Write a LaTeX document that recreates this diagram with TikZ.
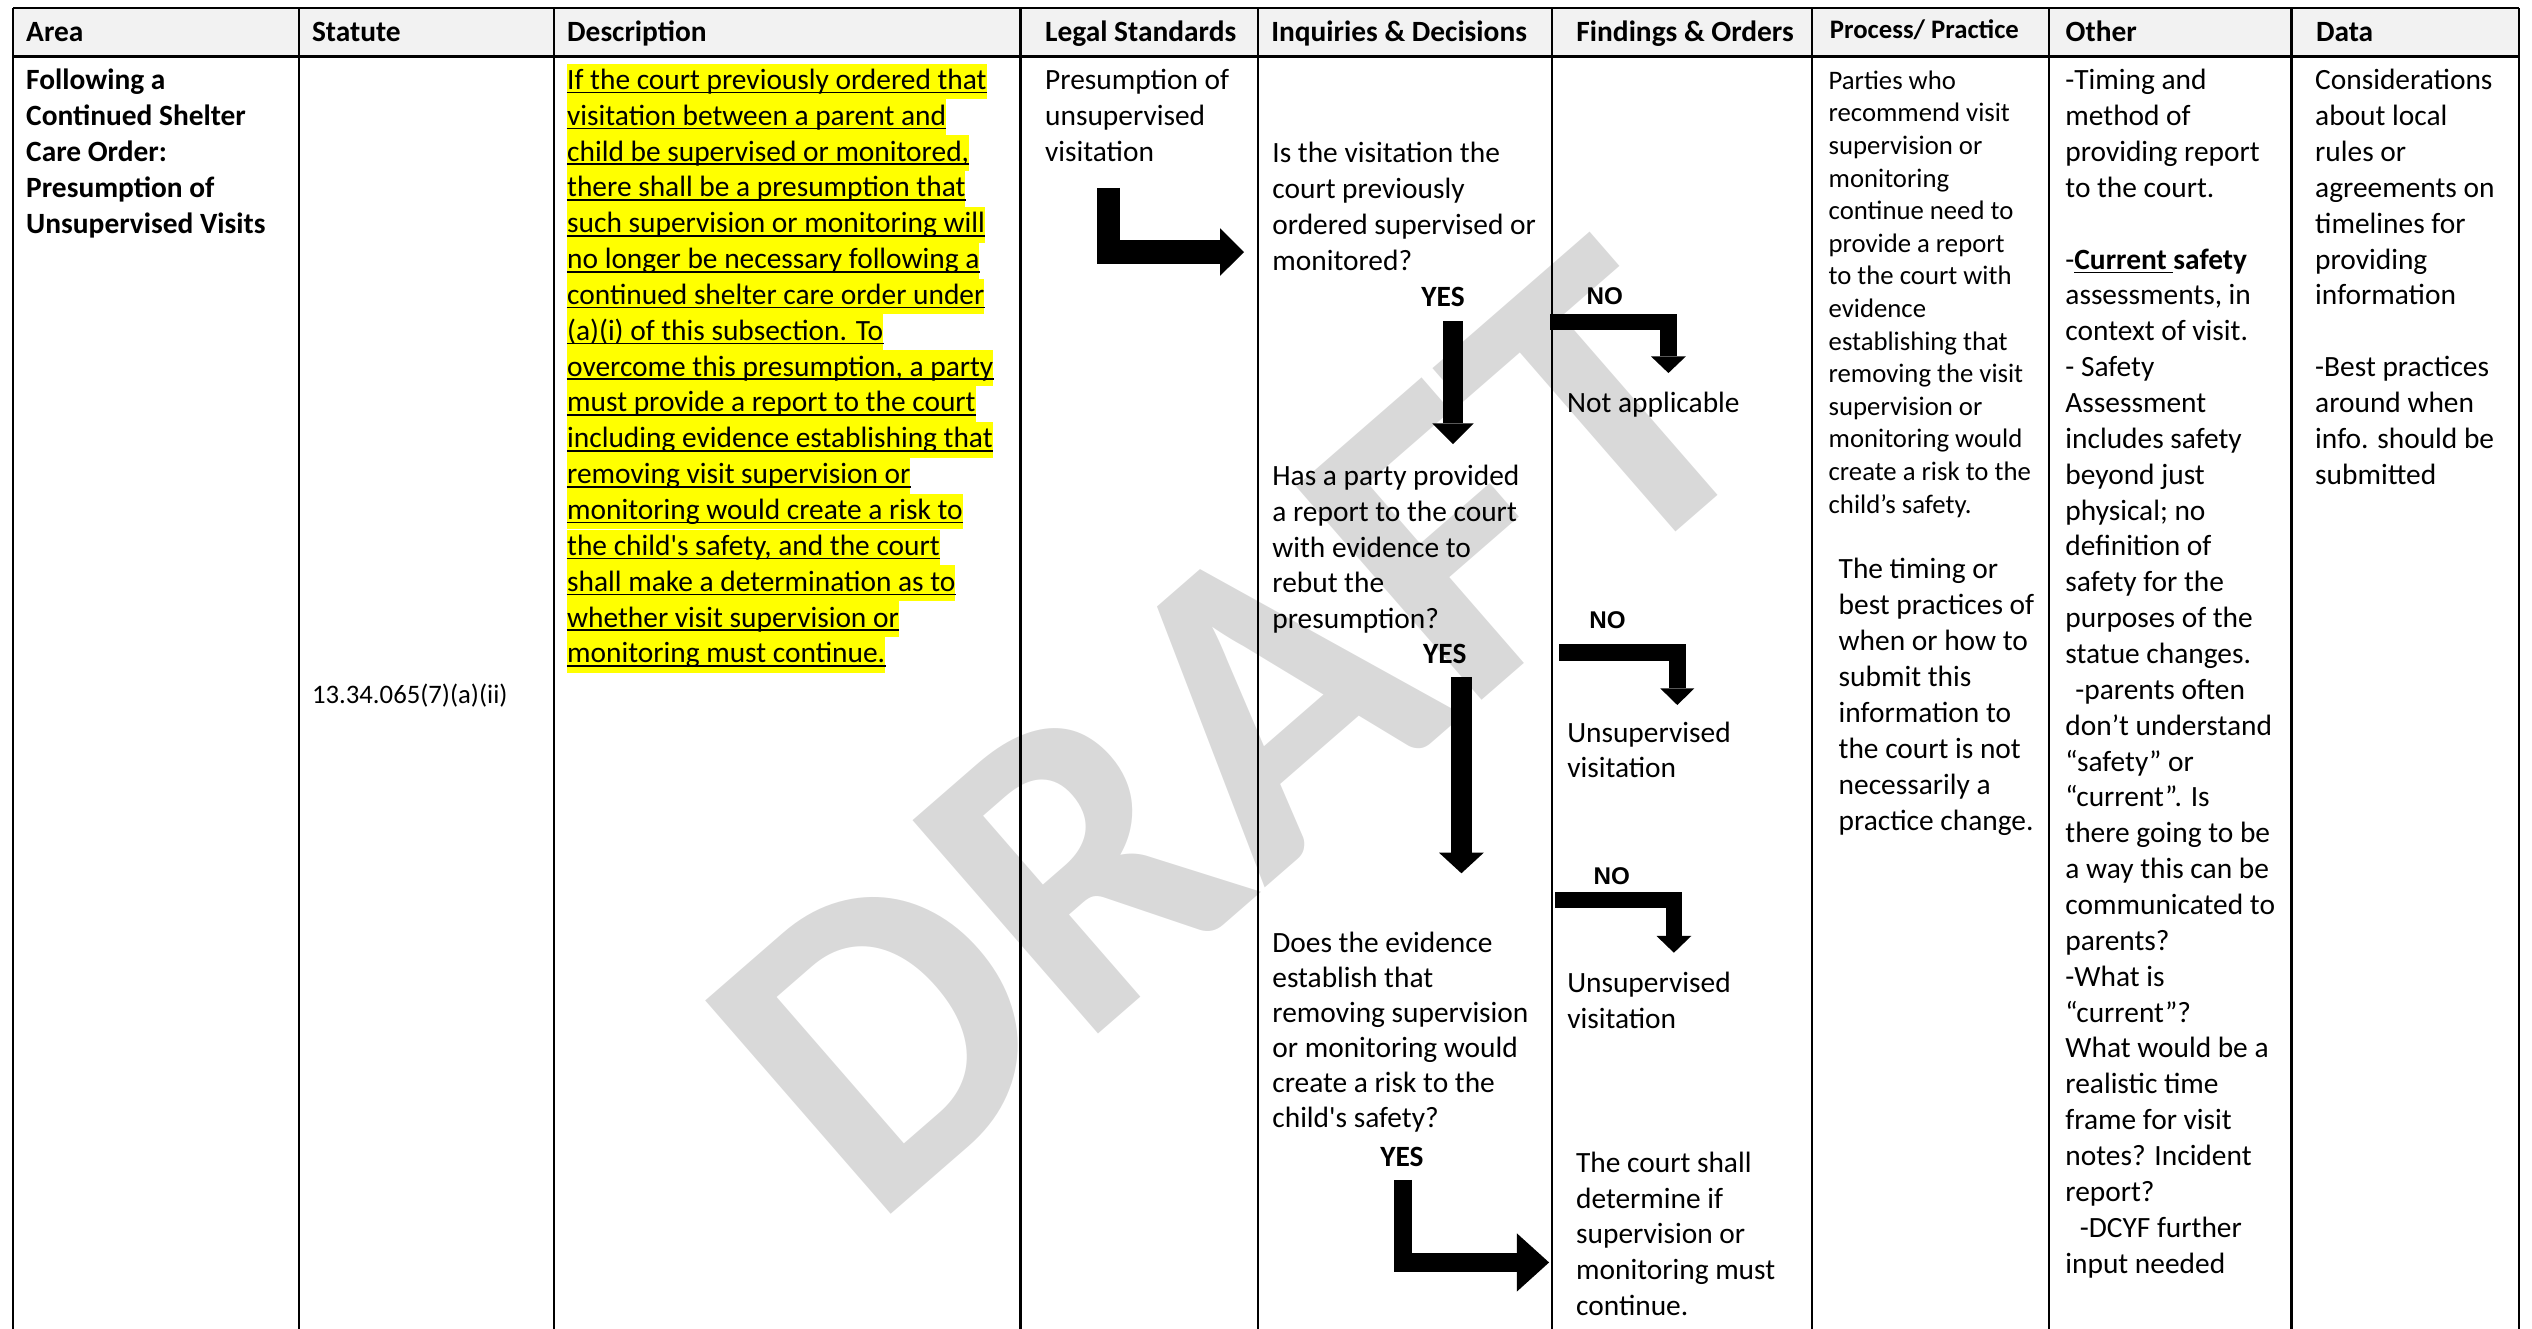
\documentclass[tikz,border=0pt]{standalone}
\usepackage{fontspec}
\setmainfont{Carlito}
\newfontfamily\arialf{Liberation Sans}
\usetikzlibrary{arrows.meta}
\definecolor{hdrgray}{HTML}{F2F2F2}
\definecolor{wmgray}{HTML}{D9D9D9}
\definecolor{hlyellow}{HTML}{FFFF00}
\newcommand{\elf}{\fontsize{14.7pt}{17.93pt}\selectfont}
\newcommand{\tenf}{\fontsize{13.36pt}{16.3pt}\selectfont}
\newcommand{\hlline}[3]{%
  \node[hl] (#1) at (351,#2) {#3\hspace{2.5pt}};
  \draw[ul] ([yshift=-1.6pt]#1.base west) -- ([yshift=-1.6pt]#1.base east);}
\begin{document}
\begin{tikzpicture}[x=0.8074pt,y=-0.8074pt,
  txt/.style={anchor=north west, yshift=12.55pt, inner sep=0pt, align=left, font=\elf},
  smalltxt/.style={anchor=north west, yshift=11.41pt, inner sep=0pt, align=left, font=\tenf},
  hdr/.style={anchor=base west, inner sep=0pt, font=\elf\bfseries},
  hl/.style={anchor=base west, inner sep=0pt, fill=hlyellow, text height=12.9pt, text depth=5pt, font=\elf},
  ul/.style={line width=0.8pt},
  yes/.style={inner sep=0pt, font=\elf\bfseries},
  no/.style={inner sep=0pt, font=\arialf\fontsize{12.1pt}{14pt}\selectfont\bfseries},
  tbl/.style={line width=1.1pt, black}]
\useasboundingbox (0,0) rectangle (1568,822.4);
% watermark
\node[font=\fontsize{218pt}{218pt}\selectfont\bfseries, text=wmgray, rotate=41, anchor=base west, inner sep=0pt] (wm) at (540,762) {DRAFT};
% header fill
\fill[hdrgray] (8,5) rectangle (1560,35);
% headers
\node[hdr] (h1) at (16,25.8) {Area};
\node[hdr] (h2) at (193,25.8) {Statute};
\node[hdr] (h3) at (351,25.8) {Description};
\node[hdr] (h4) at (647,25.8) {Legal Standards};
\node[hdr] (h5) at (787,25.8) {Inquiries \& Decisions};
\node[hdr] (h6) at (976,25.8) {Findings \& Orders};
\node[hdr, font=\tenf\bfseries] (h7) at (1133,23.8) {Process/ Practice};
\node[hdr] (h8) at (1279,25.8) {Other};
\node[hdr] (h9) at (1434,25.8) {Data};
% area
\node[txt, font=\elf\bfseries] (area) at (16,55.3) {\strut Following a\\Continued Shelter\\Care Order:\\Presumption of\\Unsupervised Visits};
% statute
\node[smalltxt] (statute) at (193,435.3) {\strut 13.34.065(7)(a)(ii)};
% description
\hlline{d1}{55.3}{If the court previously ordered that}
\hlline{d2}{77.5}{visitation between a parent and}
\hlline{d3}{99.7}{child be supervised or monitored,}
\hlline{d4}{121.9}{there shall be a presumption that}
\hlline{d5}{144.1}{such supervision or monitoring will}
\hlline{d6}{166.3}{no longer be necessary following a}
\hlline{d7}{188.5}{continued shelter care order under}
\hlline{d8}{210.7}{(a)(i) of this subsection. To}
\hlline{d9}{232.9}{overcome this presumption, a party}
\hlline{d10}{255.1}{must provide a report to the court}
\hlline{d11}{277.3}{including evidence establishing that}
\hlline{d12}{299.5}{removing visit supervision or}
\hlline{d13}{321.7}{monitoring would create a risk to}
\hlline{d14}{343.9}{the child\textquotesingle s safety, and the court}
\hlline{d15}{366.1}{shall make a determination as to}
\hlline{d16}{388.3}{whether visit supervision or}
\hlline{d17}{410.5}{monitoring must continue.}
% legal standards
\node[txt] (legal) at (647,55.3) {\strut Presumption of\\unsupervised\\visitation};
% inquiries
\node[txt] (q1) at (787.7,100.5) {\strut Is the visitation the\\court previously\\ordered supervised or\\monitored?};
\node[txt] (q2) at (787.7,300.3) {\strut Has a party provided\\a report to the court\\with evidence to\\rebut the\\presumption?};
\node[txt, font=\fontsize{14.7pt}{17.5pt}\selectfont, yshift=-0.3pt] (q3) at (787.7,589.5) {\strut Does the evidence\\establish that\\removing supervision\\or monitoring would\\create a risk to the\\child\textquotesingle s safety?};
\node[yes] (y1) at (893.6,184) {YES};
\node[yes] (y2) at (894.7,405) {YES};
\node[yes] (y3) at (868.2,716.3) {YES};
% findings
\node[txt] (na) at (970.2,255.3) {\strut Not applicable};
\node[txt] (uv1) at (970.3,459.3) {\strut Unsupervised\\visitation};
\node[txt] (uv2) at (970.3,614.3) {\strut Unsupervised\\visitation};
\node[txt] (court) at (975.8,725.7) {\strut The court shall\\determine if\\supervision or\\monitoring must\\continue.};
\node[no] (n1) at (993.8,183.6) {NO};
\node[no] (n2) at (995.5,384) {NO};
\node[no] (n3) at (998.1,542.5) {NO};
% process
\node[smalltxt] (proc1) at (1132.2,55) {\strut Parties who\\recommend visit\\supervision or\\monitoring\\continue need to\\provide a report\\to the court with\\evidence\\establishing that\\removing the visit\\supervision or\\monitoring would\\create a risk to the\\child’s safety.};
\node[txt] (proc2) at (1138.4,358.3) {\strut The timing or\\best practices of\\when or how to\\submit this\\information to\\the court is not\\necessarily a\\practice change.};
% other
\node[txt] (other) at (1278.8,55.3) {\strut -Timing and\\method of\\providing report\\to the court.\\[17.93pt]-\textbf{\underline{Current }safety}\\assessments, in\\context of visit.\\- Safety\\Assessment\\includes safety\\beyond just\\physical; no\\definition of\\safety for the\\purposes of the\\statue changes.\\\hspace*{5pt}-parents often\\don’t understand\\“safety” or\\“current”. Is\\there going to be\\a way this can be\\communicated to\\parents?\\-What is\\“current”?\\What would be a\\realistic time\\frame for visit\\notes? Incident\\report?\\\hspace*{7.2pt}-DCYF further\\input needed};
% data
\node[txt] (data) at (1433.5,55.3) {\strut Considerations\\about local\\rules or\\agreements on\\timelines for\\providing\\information\\[17.93pt]-Best practices\\around when\\info. should be\\submitted};
% arrows
\coordinate (a1s) at (686.45,116.4); \coordinate (a1e) at (770.4,156.1);
\draw[line width=11.8pt, -{Triangle[width=23.8pt,length=12pt,line width=0pt]}] (a1s) |- (a1e);
\coordinate (a2s) at (899.8,199); \coordinate (a2e) at (899.8,275);
\draw[line width=10pt, -{Triangle[width=20.6pt,length=10.3pt,line width=0pt]}] (a2s) -- (a2e);
\coordinate (a3s) at (905,419.5); \coordinate (a3e) at (905,540.8);
\draw[line width=10.7pt, -{Triangle[width=22.4pt,length=10.3pt,line width=0pt]}] (a3s) -- (a3e);
\coordinate (a4s) at (868.9,730.7); \coordinate (a4e) at (959.3,781.8);
\draw[line width=9.3pt, -{Triangle[width=29.1pt,length=16.1pt,line width=0pt]}] (a4s) |- (a4e);
\coordinate (b1s) at (959.9,199.2); \coordinate (b1e) at (1033.2,231);
\draw[line width=8.1pt, -{Triangle[width=17.4pt,length=8.3pt,line width=0pt]}] (b1s) -| (b1e);
\coordinate (b2s) at (965.5,404.1); \coordinate (b2e) at (1038.7,436.6);
\draw[line width=8.6pt, -{Triangle[width=17pt,length=8.3pt,line width=0pt]}] (b2s) -| (b2e);
\coordinate (b3s) at (963.2,557.4); \coordinate (b3e) at (1036.6,590);
\draw[line width=8.3pt, -{Triangle[width=17.4pt,length=8.4pt,line width=0pt]}] (b3s) -| (b3e);
% table lines
\draw[tbl] (8,5) -- (1560,5);
\draw[tbl] (8,35) -- (1560,35);
\foreach \x in {8,185,343,632,779,961,1122,1269,1419,1560}
  \draw[tbl] (\x,5) -- (\x,823);
\end{tikzpicture}
\end{document}
